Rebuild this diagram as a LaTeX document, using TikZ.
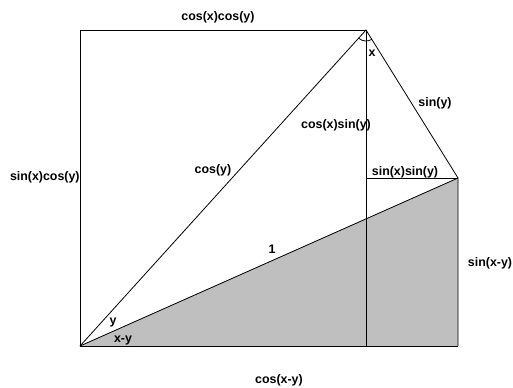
\documentclass[tikz,border=0pt]{standalone}
\usepackage{fontspec}
\setmainfont{Liberation Sans}
\usetikzlibrary{calc}

\begin{document}
\begin{tikzpicture}[x=0.5pt,y=-0.5pt,
  lbl/.style={font=\fontsize{6.2}{7}\selectfont\bfseries,inner sep=1pt}]
  \useasboundingbox (0,0) rectangle (513,387);
  \coordinate (O) at (80,346);
  \coordinate (P) at (80,30);
  \coordinate (T) at (366,30);
  \coordinate (R) at (458,178);
  \coordinate (S) at (458,346);
  \coordinate (Q) at (366,178);
  \coordinate (U) at (366,346);
  \fill[gray!50] (O)--(R)--(S)--cycle;
  \draw (O)--(P)--(T);
  \draw (O)--(S);
  \draw (O)--(T)--(R)--(S);
  \draw (O)--(R);
  \draw (T)--(U);
  \draw (Q)--(R);
  \draw ([shift={(132:11)}]T) arc[start angle=132,end angle=58,radius=11];
  \node[lbl] (cxcy) at (218,17) {cos(x)cos(y)};
  \node[lbl,left,inner sep=0pt] (sxcy) at (P|-0,177) {sin(x)cos(y)};
  \node[lbl] (cy) at (213,170) {cos(y)};
  \node[lbl] (cxsy) at (336,125) {cos(x)sin(y)};
  \node[lbl] (sy) at (435,103) {sin(y)};
  \node[lbl] (sxsy) at (405,172) {sin(x)sin(y)};
  \node[lbl] (one) at (272,249) {1};
  \node[lbl] (sxmy) at (490,263) {sin(x-y)};
  \node[lbl] (ay) at (113,322) {y};
  \node[lbl] (axmy) at (123,340) {x-y};
  \node[lbl] (cxmy) at (279,380) {cos(x-y)};
  \node[lbl] (ax) at (372,53) {x};
\end{tikzpicture}
\end{document}
